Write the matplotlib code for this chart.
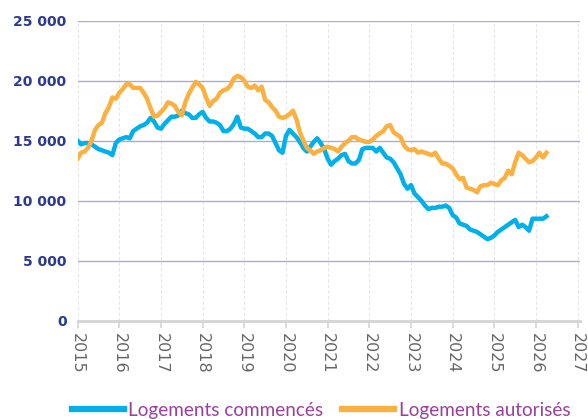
import matplotlib
matplotlib.use("Agg")
import matplotlib.pyplot as plt
import numpy as np
from matplotlib.lines import Line2D

# Monthly series, Jan 2015 -> Apr 2026 (thousands of dwellings)
start_year = 2015
commences = [
    15.0, 14.7, 14.8, 14.8, 14.7, 14.5, 14.3, 14.2, 14.1, 14.0, 13.8, 14.8,
    15.1, 15.2, 15.3, 15.2, 15.8, 16.0, 16.2, 16.3, 16.5, 16.9, 16.6, 16.1,
    16.0, 16.4, 16.7, 17.0, 17.0, 17.1, 17.5, 17.3, 17.2, 16.9, 16.9, 17.2,
    17.4, 16.9, 16.6, 16.6, 16.5, 16.3, 15.8, 15.8, 16.0, 16.4, 17.0, 16.1,
    16.0, 16.0, 15.8, 15.6, 15.3, 15.3, 15.6, 15.6, 15.4, 14.8, 14.2, 14.0,
    15.4, 15.9, 15.6, 15.3, 14.9, 14.4, 14.1, 14.5, 14.9, 15.2, 14.8, 14.3,
    13.5, 13.0, 13.3, 13.5, 13.8, 13.9, 13.3, 13.1, 13.1, 13.4, 14.3, 14.4,
    14.4, 14.4, 14.1, 14.4, 14.0, 13.6, 13.5, 13.2, 12.7, 12.2, 11.4, 11.0,
    11.3, 10.6, 10.3, 10.0, 9.6, 9.3, 9.4, 9.4, 9.5, 9.5, 9.6, 9.4,
    8.8, 8.6, 8.1, 8.0, 7.9, 7.6, 7.5, 7.4, 7.2, 7.0, 6.8, 6.9,
    7.1, 7.4, 7.6, 7.8, 8.0, 8.2, 8.4, 7.8, 8.0, 7.8, 7.5, 8.5,
    8.5, 8.5, 8.5, 8.7,
]
autorises = [
    13.5, 14.0, 14.1, 14.4, 15.0, 15.9, 16.3, 16.5, 17.3, 17.8, 18.6, 18.5,
    19.0, 19.3, 19.7, 19.7, 19.4, 19.4, 19.4, 19.0, 18.5, 17.7, 17.0, 17.1,
    17.4, 17.7, 18.2, 18.1, 17.9, 17.4, 17.1, 18.2, 18.9, 19.4, 19.9, 19.7,
    19.4, 18.6, 17.9, 18.3, 18.5, 19.0, 19.2, 19.3, 19.6, 20.2, 20.4, 20.3,
    20.0, 19.5, 19.4, 19.6, 19.2, 19.5, 18.4, 18.2, 17.8, 17.5, 17.0, 16.9,
    17.0, 17.2, 17.5, 16.8, 15.7, 15.0, 14.4, 14.2, 13.9, 14.1, 14.2, 14.4,
    14.5, 14.4, 14.3, 14.1, 14.5, 14.8, 15.0, 15.3, 15.3, 15.1, 15.0, 14.9,
    14.9, 15.1, 15.4, 15.6, 15.8, 16.2, 16.3, 15.7, 15.5, 15.3, 14.6, 14.3,
    14.2, 14.3, 14.0, 14.1, 14.0, 13.9, 13.8, 14.0, 13.5, 13.1, 13.1, 12.9,
    12.7, 12.2, 11.8, 11.9, 11.1, 11.0, 10.9, 10.7, 11.2, 11.3, 11.3, 11.5,
    11.4, 11.3, 11.7, 11.9, 12.5, 12.2, 13.2, 14.0, 13.8, 13.5, 13.2, 13.3,
    13.6, 14.0, 13.6, 14.0,
]
series_labels = ["Logements commencés", "Logements autorisés"]
year_ticks = list(range(2015, 2028))
y_ticks = [0, 5000, 10000, 15000, 20000, 25000]
y_tick_labels = ["0", "5 000", "10 000", "15 000", "20 000", "25 000"]

blue = "#00b0eb"
orange = "#fbb040"

t = start_year + np.arange(len(commences)) / 12.0
v_c = np.array(commences) * 1000
v_a = np.array(autorises) * 1000

fig = plt.figure(figsize=(5.88, 4.19), dpi=100)
ax = fig.add_axes([0.132, 0.2346, 0.854, 0.716])

ax.plot(t, v_c, color=blue, lw=3.2, solid_joinstyle="round", zorder=3)
ax.plot(t, v_a, color=orange, lw=3.2, solid_joinstyle="round", zorder=3)

ax.set_xlim(2015, 2027.05)
ax.set_ylim(0, 25000)
ax.set_yticks(y_ticks)
ax.set_yticklabels(y_tick_labels, fontweight="bold", color="#2b3990", fontsize=10)
ax.set_xticks(year_ticks)
ax.set_xticklabels([str(y) for y in year_ticks], rotation=270, color="#666666", fontsize=11.5)

for y in y_ticks[1:]:
    ax.axhline(y, color="#a9acdb", lw=1.0, zorder=1)
for x in year_ticks:
    ax.axvline(x, color="#e6e6e6", lw=0.8, ls=(0, (3, 2)), zorder=0)

for s in ["top", "right", "left"]:
    ax.spines[s].set_visible(False)
ax.spines["bottom"].set_color("#d4d4d4")
ax.spines["bottom"].set_linewidth(2)
ax.tick_params(axis="y", length=0, pad=8)
ax.tick_params(axis="x", length=5, width=1.2, color="#d4d4d4", pad=4)

handles = [Line2D([0], [0], color=blue, lw=4.5), Line2D([0], [0], color=orange, lw=4.5)]
leg = fig.legend(handles, series_labels, loc="lower center", bbox_to_anchor=(0.546, -0.04),
                 ncol=2, frameon=False, handlelength=2.75, handletextpad=0.25,
                 columnspacing=1.0, prop={"family": "Lato", "size": 13.6})
for txt in leg.get_texts():
    txt.set_color("#9b3f9f")

fig.savefig("out.png", dpi=100)
